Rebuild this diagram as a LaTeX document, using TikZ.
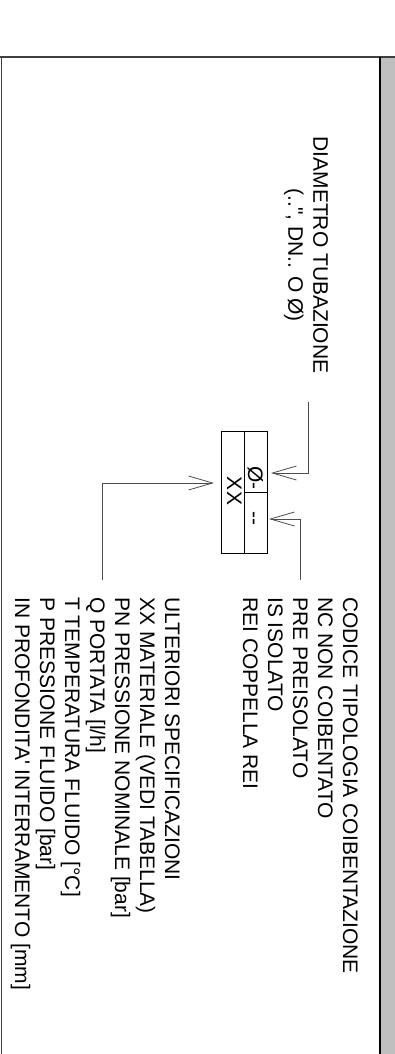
\documentclass[tikz,border=0pt]{standalone}
\usepackage{fontspec}
\newfontfamily\cadfont{Liberation Sans}[Ligatures=TeXOff]
\usepackage{tikz}
\usetikzlibrary{arrows.meta,positioning,calc}

\begin{document}
\begin{tikzpicture}[x=1pt, y=-1pt,
  txt/.style={rotate=-90, inner sep=0pt, font=\cadfont\fontsize{21}{25}\selectfont},
  cell/.style={draw, line width=1pt, inner sep=0pt, outer sep=0pt, minimum width=23pt, minimum height=61pt},
  arr/.style={-{Straight Barb[length=24pt, width=14pt]}, line width=0.8pt, black!70}
]
\useasboundingbox (0,0) rectangle (395,1054);
% sheet frame
\fill[black!25] (380,57) rectangle (395,1054);
\draw[black!75, line width=1.5pt] (0,57) -- (395,57);
\draw[black!75, line width=1.5pt] (1.5,57) -- (1.5,1054);
\draw[line width=2pt] (380,57) -- (380,1054);
% pipe tag
\node[cell, minimum height=122pt] (xx) at (232.5,492) {};
\node[cell] (dia) at (255.5,461.5) {};
\node[cell] (cod) at (255.5,522.5) {};
\node[txt, anchor=base] (xxtxt) at (227,491) {XX};
\node[txt, anchor=base west] (diatxt) at (248,466) {Ø-};
\node[txt, anchor=base west] (codtxt) at (248,511) {--};
% legends
\node[txt, align=center] (diam) at (306,255) {DIAMETRO TUBAZIONE\\(..", DN.. O Ø)};
\node[txt, align=left, anchor=north west] (codice) at (358,597) {CODICE TIPOLOGIA COIBENTAZIONE\\NC NON COIBENTATO\\PRE PREISOLATO\\IS ISOLATO\\REI COPPELLA REI};
\node[txt, align=left, anchor=north west] (ulteriori) at (180,597) {ULTERIORI SPECIFICAZIONI\\XX MATERIALE (VEDI TABELLA)\\PN PRESSIONE NOMINALE [bar]\\Q PORTATA [l/h]\\T TEMPERATURA FLUIDO [°C]\\P PRESSIONE FLUIDO [bar]\\IN PROFONDITA' INTERRAMENTO [mm]};
% leaders
\coordinate (diafoot) at (308,402);
\coordinate (codfoot) at (300,580);
\coordinate (xxfoot) at (102,580);
\draw[arr, shorten >=4pt] (diafoot) |- ([yshift=-11.5pt]dia.east);
\draw[arr, shorten >=2pt] (codfoot) |- ([yshift=3.5pt]cod.east);
\draw[arr, shorten >=7pt] (xxfoot) |- ([yshift=9pt]xx.west);
\end{tikzpicture}
\end{document}
